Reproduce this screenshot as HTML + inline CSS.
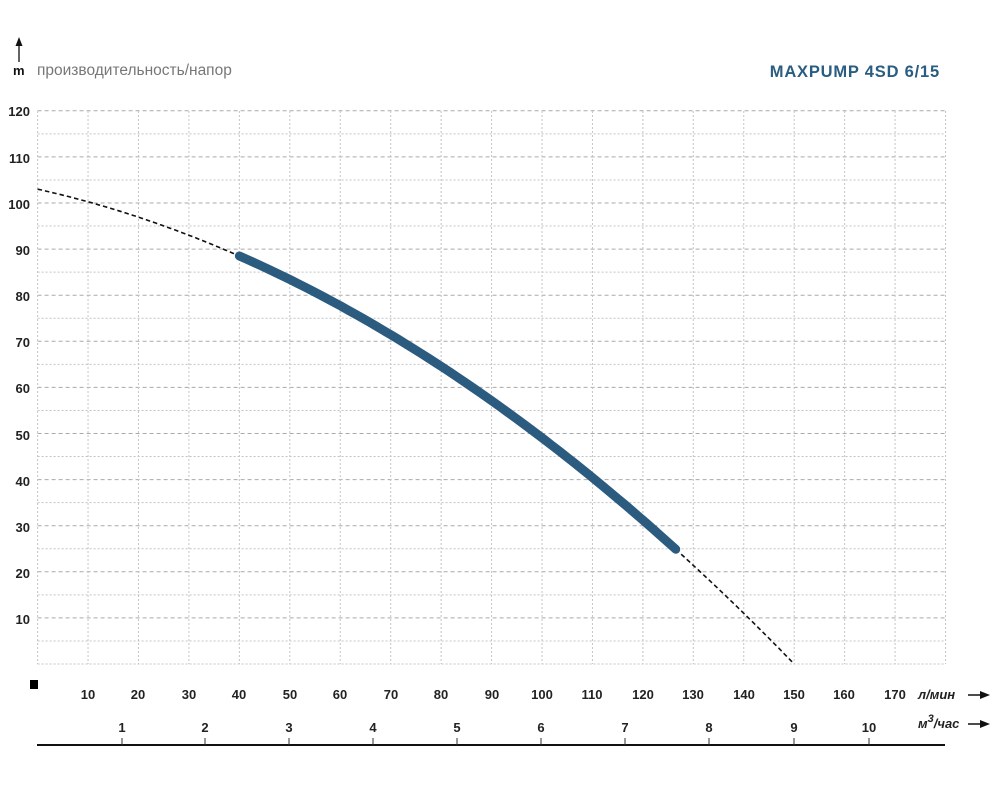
<!DOCTYPE html>
<html><head><meta charset="utf-8"><style>
html,body{margin:0;padding:0;background:#fff;}
svg{display:block;font-family:"Liberation Sans",sans-serif;}
.yl{font-size:13px;font-weight:bold;fill:#222;text-anchor:end;}
.xl{font-size:13px;font-weight:bold;fill:#222;text-anchor:middle;}
</style></head><body>
<svg id="s" width="1000" height="800" viewBox="0 0 1000 800">
<g id="grid"></g>
<line x1="19" y1="62" x2="19" y2="44" stroke="#111" stroke-width="1.3"/>
<polygon points="19,37 15.5,46 22.5,46" fill="#111"/>
<text x="13" y="75" font-size="13" font-weight="bold" fill="#111">m</text>
<text x="37" y="75" font-size="15.5" fill="#777">производительность/напор</text>
<text x="940" y="77" font-size="16.5" font-weight="bold" fill="#2a5d82" text-anchor="end" letter-spacing="0.8">MAXPUMP 4SD 6/15</text>
<g>
<text class="yl" x="30" y="116">120</text>
<text class="yl" x="30" y="163">110</text>
<text class="yl" x="30" y="209">100</text>
<text class="yl" x="30" y="255">90</text>
<text class="yl" x="30" y="301">80</text>
<text class="yl" x="30" y="347">70</text>
<text class="yl" x="30" y="393">60</text>
<text class="yl" x="30" y="440">50</text>
<text class="yl" x="30" y="486">40</text>
<text class="yl" x="30" y="532">30</text>
<text class="yl" x="30" y="578">20</text>
<text class="yl" x="30" y="624">10</text>
</g>
<rect x="30" y="680" width="8" height="9" fill="#000"/>
<g>
<text class="xl" x="88" y="699">10</text>
<text class="xl" x="138" y="699">20</text>
<text class="xl" x="189" y="699">30</text>
<text class="xl" x="239" y="699">40</text>
<text class="xl" x="290" y="699">50</text>
<text class="xl" x="340" y="699">60</text>
<text class="xl" x="391" y="699">70</text>
<text class="xl" x="441" y="699">80</text>
<text class="xl" x="492" y="699">90</text>
<text class="xl" x="542" y="699">100</text>
<text class="xl" x="592" y="699">110</text>
<text class="xl" x="643" y="699">120</text>
<text class="xl" x="693" y="699">130</text>
<text class="xl" x="744" y="699">140</text>
<text class="xl" x="794" y="699">150</text>
<text class="xl" x="844" y="699">160</text>
<text class="xl" x="895" y="699">170</text>
<text x="918" y="699" font-size="13" font-weight="bold" font-style="italic" fill="#222">л/мин</text>
<text class="xl" x="122" y="732">1</text>
<text class="xl" x="205" y="732">2</text>
<text class="xl" x="289" y="732">3</text>
<text class="xl" x="373" y="732">4</text>
<text class="xl" x="457" y="732">5</text>
<text class="xl" x="541" y="732">6</text>
<text class="xl" x="625" y="732">7</text>
<text class="xl" x="709" y="732">8</text>
<text class="xl" x="794" y="732">9</text>
<text class="xl" x="869" y="732">10</text>
<text x="918" y="728" font-size="13" font-weight="bold" font-style="italic" fill="#222">м<tspan dy="-6" font-size="11">3</tspan><tspan dy="6">/час</tspan></text>
</g>
<line x1="968" y1="695" x2="982" y2="695" stroke="#111" stroke-width="1.5"/><polygon points="990,695 980,691 980,699" fill="#111"/>
<line x1="968" y1="724" x2="982" y2="724" stroke="#111" stroke-width="1.5"/><polygon points="990,724 980,720 980,728" fill="#111"/>
<line x1="37" y1="745" x2="945" y2="745" stroke="#111" stroke-width="2"/>
<g stroke="#333" stroke-width="1">
<line x1="122" y1="738" x2="122" y2="745"/><line x1="205" y1="738" x2="205" y2="745"/><line x1="289" y1="738" x2="289" y2="745"/><line x1="373" y1="738" x2="373" y2="745"/><line x1="457" y1="738" x2="457" y2="745"/><line x1="541" y1="738" x2="541" y2="745"/><line x1="625" y1="738" x2="625" y2="745"/><line x1="709" y1="738" x2="709" y2="745"/><line x1="794" y1="738" x2="794" y2="745"/><line x1="869" y1="738" x2="869" y2="745"/>
</g>
<path id="d1" fill="none" stroke="#111" stroke-width="1.6" stroke-dasharray="4.5,3"/>
<path id="d2" fill="none" stroke="#111" stroke-width="1.6" stroke-dasharray="4.5,3"/>
<path id="th" fill="none" stroke="#2c5b80" stroke-width="9" stroke-linecap="round"/>
</svg>
<script>
var X=function(q){return 37.6+q*5.044;},Y=function(h){return 664-h*4.61;};
var H=function(q){return 103-0.2446*q-0.002947*q*q;};
function p(a,b){var s="";for(var q=a;q<=b+1e-6;q+=(b-a)/60){s+=(s?"L":"M")+X(q).toFixed(1)+","+Y(H(q)).toFixed(1);}return s;}
document.getElementById("d1").setAttribute("d",p(0,40));
document.getElementById("d2").setAttribute("d",p(126.5,150));
document.getElementById("th").setAttribute("d",p(40,126.5));
var g=document.getElementById("grid"),h="";
for(var i=1;i<=24;i++){var y=Y(i*5);var maj=i%2==0;
h+='<line x1="37.6" x2="945" y1="'+y+'" y2="'+y+'" stroke="'+(maj?'#aaa':'#c4c4c4')+'" stroke-width="1" stroke-dasharray="'+(maj?'4,3':'2,2')+'"/>';}
h+='<line x1="37.6" x2="945" y1="664" y2="664" stroke="#c4c4c4" stroke-dasharray="2,2"/>';
for(var k=0;k<=18;k++){var x=X(k*10);h+='<line x1="'+x+'" x2="'+x+'" y1="111" y2="664" stroke="#c4c4c4" stroke-dasharray="2,2"/>';}
g.innerHTML=h;
</script>
</body></html>
